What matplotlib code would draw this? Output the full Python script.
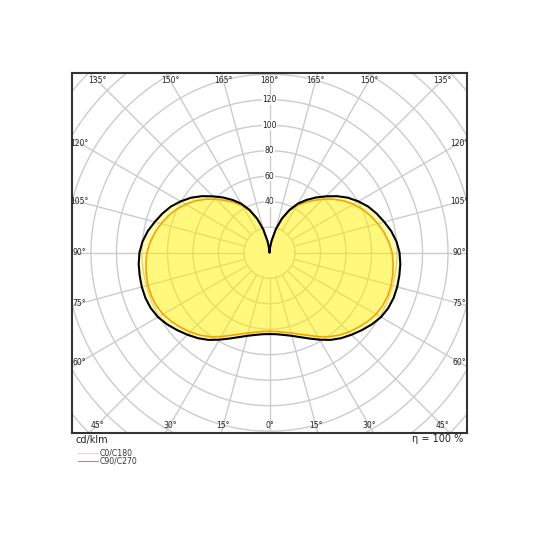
import numpy as np
import matplotlib
matplotlib.use('Agg')
import matplotlib.pyplot as plt
from matplotlib.lines import Line2D

#%% data (cd/klm, gamma angle in degrees from nadir)
gamma = np.arange(0, 181, 5)
c90_c270 = np.array([63.8, 64.2, 65.5, 67.5, 70.5, 74.3, 78.8, 83.5, 87.5, 91.0,
                     94.5, 98.0, 101.0, 102.8, 103.6, 103.7, 103.4, 103.0, 102.0,
                     100.0, 97.0, 93.2, 89.5, 85.5, 80.5, 75.2, 69.0, 62.5, 56.5,
                     50.5, 44.4, 37.0, 28.5, 19.0, 9.5, 3.5, 0.0])
c0_c180 = np.array([61.7, 62.0, 63.3, 65.2, 68.0, 71.5, 76.0, 80.5, 84.5, 88.0,
                    91.0, 94.0, 96.5, 98.0, 98.7, 98.7, 98.2, 97.3, 96.2,
                    94.0, 91.3, 88.0, 84.5, 80.5, 76.0, 71.0, 65.3, 59.3, 53.5,
                    48.0, 42.5, 36.0, 28.0, 18.8, 9.5, 3.5, 0.0])
ring_labels = [40, 60, 80, 100, 120]
ring_radii = np.arange(20, 221, 20)
angle_ticks = np.arange(0, 181, 15)
legend_names = ['C0/C180', 'C90/C270']

#%% figure
W = 540
fig = plt.figure(figsize=(5.4, 5.4), dpi=100)
ax = fig.add_axes([72 / W, 1 - 432.7 / W, 395 / W, 360 / W])
px = 1.275  # pixels per cd/klm
half_w, half_h = 197.5 / px, 180 / px
ax.set_xlim(-half_w, half_w)
ax.set_ylim(-half_h, half_h)
ax.set_xticks([])
ax.set_yticks([])
for s in ax.spines.values():
    s.set_color('#333333')
    s.set_linewidth(1.5)

grid_c = '#cccccc'
t = np.linspace(0, 2 * np.pi, 400)
for r in ring_radii:
    ax.plot(r * np.cos(t), r * np.sin(t), color=grid_c, lw=1.0, zorder=1)
for a in np.arange(0, 360, 15):
    ar = np.radians(a)
    ax.plot([20 * np.sin(ar), 300 * np.sin(ar)], [-20 * np.cos(ar), -300 * np.cos(ar)],
            color=grid_c, lw=1.0, zorder=1)


def outline(vals):
    g = np.radians(gamma)
    xr, yr = vals * np.sin(g), -vals * np.cos(g)
    x = np.concatenate([xr, -xr[::-1]])
    y = np.concatenate([yr, yr[::-1]])
    return x, y


xb, yb = outline(c90_c270)
xo, yo = outline(c0_c180)
ax.fill(xb, yb, color='#FFF200', alpha=0.3, lw=0, zorder=2)
ax.fill(xo, yo, color='#FFF200', alpha=0.3, lw=0, zorder=2)
ax.plot(xo, yo, color='#F5A300', lw=1.2, zorder=3, solid_joinstyle='round')
ax.plot(xb, yb, color='black', lw=1.5, zorder=4, solid_joinstyle='round')

# angle labels on an inset rectangle
hw, hh = 190 / px, 172.5 / px
for a in angle_ticks:
    ar = np.radians(a)
    for side in (1, -1):
        if side == -1 and a in (0, 180):
            continue
        dx, dy = side * np.sin(ar), -np.cos(ar)
        k = min(hw / abs(dx) if abs(dx) > 1e-9 else np.inf,
                hh / abs(dy) if abs(dy) > 1e-9 else np.inf)
        ax.text(k * dx, k * dy, f'{a}°', ha='center', va='center', fontsize=5.5,
                color='#222222', clip_on=True, zorder=5)

for r in ring_labels:
    ax.text(0, r, str(r), ha='center', va='center', fontsize=5.5, color='#222222', zorder=5,
            bbox=dict(facecolor='white', edgecolor='none', pad=0.2))

fig.text(75 / W, 1 - 439.5 / W, 'cd/klm', fontsize=7, ha='left', va='center', color='#222222')
fig.text(463 / W, 1 - 439.5 / W, 'η = 100 %', fontsize=7, ha='right', va='center', color='#222222')

for i, (name, col) in enumerate(zip(legend_names, ['#FFD27F', '#999999'])):
    yy = 1 - (453 + 7.5 * i) / W
    fig.add_artist(Line2D([78 / W, 98 / W], [yy, yy], color=col, lw=0.8))
    fig.text(100 / W, yy, name, fontsize=5.6, ha='left', va='center', color='#333333')

fig.savefig('out.png', dpi=100)
